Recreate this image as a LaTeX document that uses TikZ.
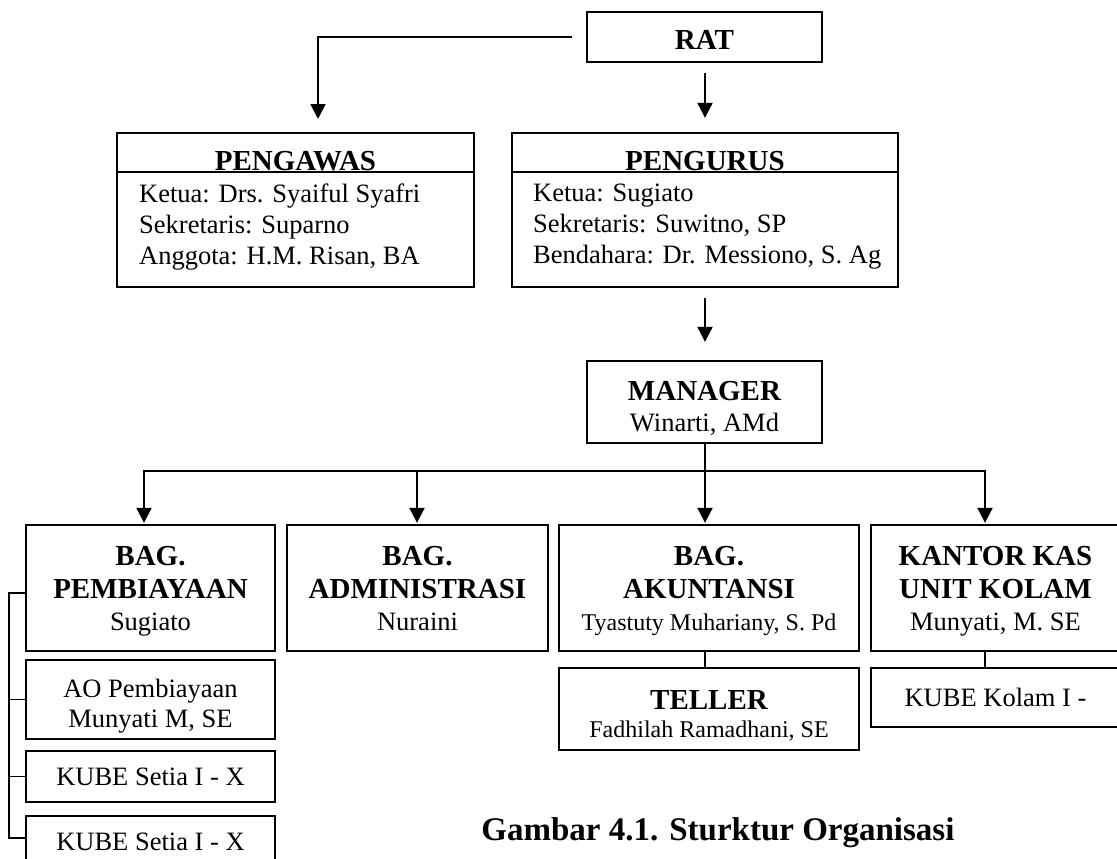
\documentclass[tikz,border=0pt]{standalone}
\usepackage{fontspec}
\setmainfont{Liberation Serif}
\usetikzlibrary{arrows.meta,calc}
\newcommand\fB{\fontsize{29}{32.5}\selectfont\bfseries}
\newcommand\fS{\fontsize{24}{28}\selectfont}
\tikzset{
  box/.style={draw, line width=2.3pt, inner sep=0pt, align=center, text depth=0pt},
  conn/.style={line width=1.9pt},
  arr/.style={conn, -{Triangle[width=15pt,length=15pt]}},
  fn/.style={font=\fontsize{26.5}{#1}\selectfont},
  plain/.style={inner sep=0pt},
}
\begin{document}
\begin{tikzpicture}[x=1pt,y=-1pt]
\fill[white] (0,0) rectangle (1117,859);
\useasboundingbox (0,0) rectangle (1117,859);

% top
\node[box, fn=30, text height=25.2pt, minimum width=235pt, minimum height=50pt] (rat) at (704.5,37) {{\fB RAT}};

\node[box, minimum width=357pt, minimum height=154pt] (pgw) at (295.5,210) {};
\node[plain, anchor=base, font=\fB] (pgwt) at (295.5,170) {PENGAWAS};
\coordinate (pgwl) at (0,172);
\draw[line width=2.3pt] (pgw.west |- pgwl) -- (pgw.east |- pgwl);
\node[plain, fn=31, anchor=north west, align=left] (pgwb) at (139,184)
  {Ketua: Drs. Syaiful Syafri\\Sekretaris: Suparno\\Anggota: H.M. Risan, BA};

\node[box, minimum width=386pt, minimum height=154pt] (pgr) at (705,210) {};
\node[plain, anchor=base, font=\fB] (pgrt) at (705,170) {PENGURUS};
\draw[line width=2.3pt] (pgr.west |- pgwl) -- (pgr.east |- pgwl);
\node[plain, fn=31, anchor=north west, align=left] (pgrb) at (533,184)
  {Ketua: Sugiato\\Sekretaris: Suwitno, SP\\Bendahara: Dr. Messiono, S. Ag};

\node[box, fn=30.5, text height=58pt, minimum width=235pt, minimum height=82pt] (mgr) at (704.5,402)
  {{\fB MANAGER}\\Winarti, AMd};

% second level
\node[box, fn=32.5, text height=85.6pt, minimum width=249pt, minimum height=126pt] (pby) at (150.5,588)
  {{\fB BAG.}\\{\fB PEMBIAYAAN}\\Sugiato};
\node[box, fn=32.5, text height=85.6pt, minimum width=261pt, minimum height=126pt] (adm) at (417.5,588)
  {{\fB BAG.}\\{\fB ADMINISTRASI}\\Nuraini};
\node[box, fn=32.5, text height=85.6pt, minimum width=300pt, minimum height=126pt] (akt) at (709,588)
  {{\fB BAG.}\\{\fB AKUNTANSI}\\{\fS Tyastuty Muhariany, S. Pd}};
\node[box, fn=32.5, text height=85.6pt, minimum width=249pt, minimum height=126pt] (kk) at (995.5,588)
  {{\fB KANTOR KAS}\\{\fB UNIT KOLAM}\\Munyati, M. SE};

% third level
\node[box, fn=30, text height=55pt, minimum width=249pt, minimum height=79pt] (ao) at (150.5,699.5)
  {AO Pembiayaan\\Munyati M, SE};
\node[box, fn=30, minimum width=249pt, minimum height=51pt] (kube1) at (150.5,776.5) {KUBE Setia I - X};
\node[box, fn=30, minimum width=249pt, minimum height=51pt] (kube2) at (150.5,841.5) {KUBE Setia I - X};
\node[box, fn=28, text height=56pt, minimum width=300pt, minimum height=82pt] (teller) at (709,709)
  {{\fB TELLER}\\{\fS Fadhilah Ramadhani, SE}};
\node[box, fn=30, minimum width=249pt, minimum height=59pt] (kubek) at (995.5,697.5) {KUBE Kolam I -};

\node[plain, anchor=base, font=\fontsize{33}{38}\selectfont\bfseries] (cap) at (718,840)
  {Gambar 4.1. Sturktur Organisasi};

% connectors
\coordinate (pgwin) at (318,133);
\draw[arr, shorten <=14pt, shorten >=14pt] (rat.west) -| (pgwin);
\coordinate (b3) at (705,471);
\draw[arr, shorten <=10pt, shorten >=14pt] (b3 |- rat.south) -- (b3 |- pgr.north);
\draw[arr, shorten <=10pt, shorten >=18pt] (b3 |- pgr.south) -- (b3 |- mgr.north);

\coordinate (b1) at (144,471);
\coordinate (b2) at (417,471);
\coordinate (b4) at (985,471);
\draw[arr, shorten >=1pt] (b4) -- (b1) -- (b1 |- pby.north);
\draw[arr, shorten >=1pt] (b1) -- (b4) -- (b4 |- kk.north);
\draw[arr, shorten >=1pt] (b2) -- (b2 |- adm.north);
\draw[arr, shorten >=1pt] (b3 |- mgr.south) -- (b3 |- akt.north);

\draw[conn] (b3 |- akt.south) -- (b3 |- teller.north);
\draw[conn] (b4 |- kk.south) -- (b4 |- kubek.north);

\coordinate (brt) at (9,593);
\coordinate (brb) at (9,838);
\draw[conn] (pby.west |- brt) -- (brt) -- (brb) -- (kube2.west |- brb);
\draw[conn] (ao.west) -- (ao.west -| brt);
\draw[conn] (kube1.west) -- (kube1.west -| brt);
\end{tikzpicture}
\end{document}
